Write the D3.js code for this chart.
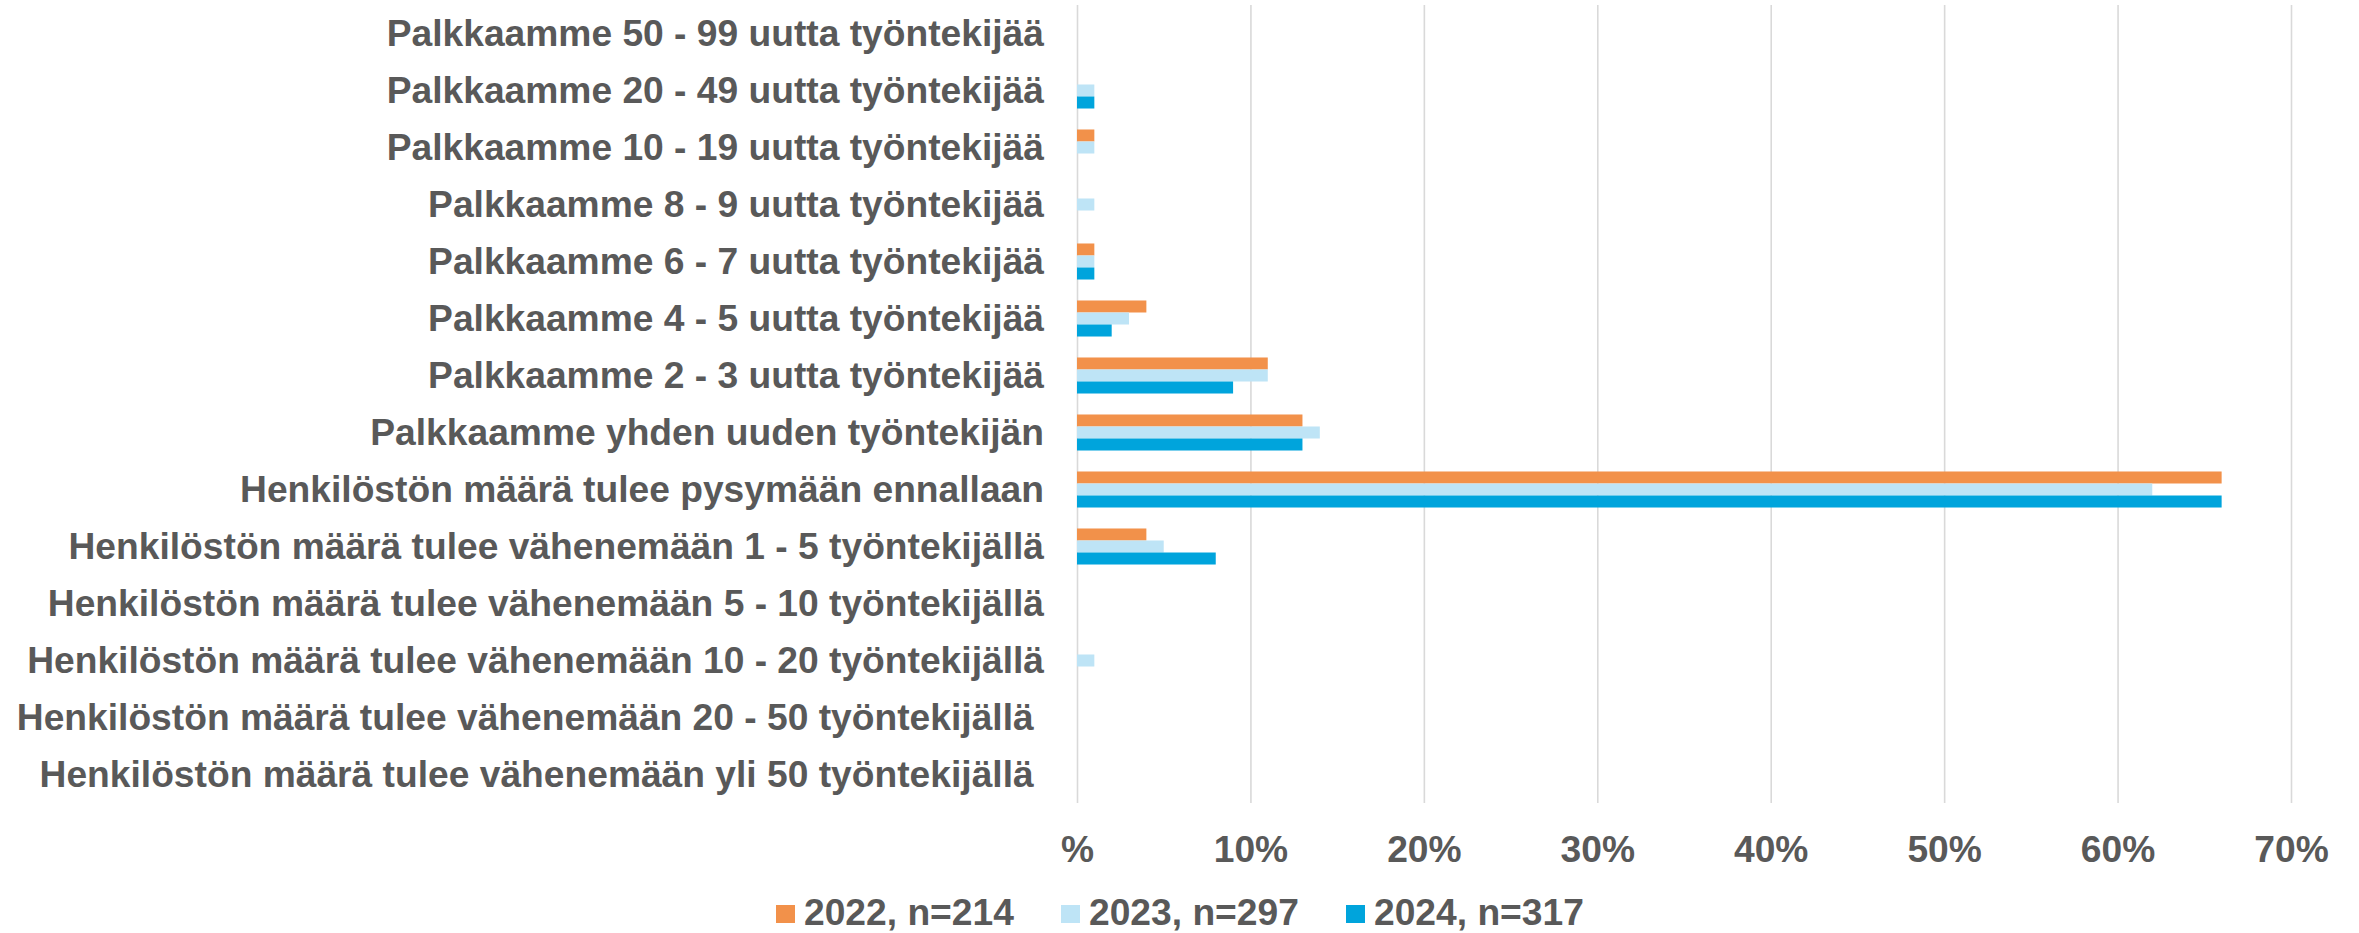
<!DOCTYPE html>
<html>
<head>
<meta charset="utf-8">
<script src="https://cdn.jsdelivr.net/npm/d3@7"></script>
<style>
  body { margin: 0; background: #fff; }
  svg { display: block; font-family: "Liberation Sans", Arial, sans-serif; font-weight: bold; }
  .label { white-space: pre; }
</style>
</head>
<body>
<svg id="chart"></svg>
<script>
// categories, top to bottom
var categories = [
  "Palkkaamme 50 - 99 uutta työntekijää",
  "Palkkaamme 20 - 49 uutta työntekijää",
  "Palkkaamme 10 - 19 uutta työntekijää",
  "Palkkaamme 8 - 9 uutta työntekijää",
  "Palkkaamme 6 - 7 uutta työntekijää",
  "Palkkaamme 4 - 5 uutta työntekijää",
  "Palkkaamme 2 - 3 uutta työntekijää",
  "Palkkaamme yhden uuden työntekijän",
  "Henkilöstön määrä tulee pysymään ennallaan",
  "Henkilöstön määrä tulee vähenemään 1 - 5 työntekijällä",
  "Henkilöstön määrä tulee vähenemään 5 - 10 työntekijällä",
  "Henkilöstön määrä tulee vähenemään 10 - 20 työntekijällä",
  "Henkilöstön määrä tulee vähenemään 20 - 50 työntekijällä ",
  "Henkilöstön määrä tulee vähenemään yli 50 työntekijällä "
];

// series names and values (percent)
var seriesNames = ["2022, n=214", "2023, n=297", "2024, n=317"];
var values2022 = [0, 0, 1, 0, 1, 4, 11, 13, 66, 4, 0, 0, 0, 0];
var values2023 = [0, 1, 1, 1, 1, 3, 11, 14, 62, 5, 0, 1, 0, 0];
var values2024 = [0, 1, 0, 0, 1, 2, 9, 13, 66, 8, 0, 0, 0, 0];
var seriesValues = [values2022, values2023, values2024];

// tick values for the x axis
var tickValues = [0, 0.1, 0.2, 0.3, 0.4, 0.5, 0.6, 0.7];

var colors = ["#F2914A", "#BEE4F6", "#00A4DC"];
var textColor = "#595959";
var fontSize = 37.2;

// size variables
var fullWidth = 2359;
var fullHeight = 933;
var margin = {top: 5, right: 68, bottom: 130, left: 1077};
var width = fullWidth - margin.left - margin.right;
var height = fullHeight - margin.top - margin.bottom;

var svg = d3.select("#chart")
  .attr("width", fullWidth)
  .attr("height", fullHeight);

var g = svg.append("g")
  .attr("transform", "translate(" + margin.left + "," + margin.top + ")");

// scales
var xScale = d3.scaleLinear()
  .domain([0, 0.7])
  .range([0, width]);

var yScale = d3.scaleBand()
  .domain(categories)
  .range([0, height])
  .paddingInner(0.368)
  .paddingOuter(0.184);

var ySub = d3.scaleBand()
  .domain(d3.range(seriesNames.length))
  .range([0, yScale.bandwidth()]);

// x axis with gridlines
var xAxis = d3.axisBottom(xScale)
  .tickValues(tickValues)
  .tickSizeInner(-height)
  .tickSizeOuter(0)
  .tickFormat(function(d) { return d === 0 ? "%" : Math.round(d * 100) + "%"; });

var xAxisG = g.append("g")
  .attr("transform", "translate(0," + height + ")")
  .call(xAxis);

xAxisG.select(".domain").remove();
xAxisG.selectAll(".tick line")
  .attr("stroke", "#D9D9D9")
  .attr("stroke-width", 1.6);
xAxisG.selectAll(".tick text")
  .attr("y", 59)
  .attr("dy", 0)
  .attr("fill", textColor)
  .style("font-size", fontSize + "px")
  .style("font-family", "'Liberation Sans', Arial, sans-serif")
  .style("font-weight", "bold");

// bars, one group per category
var groups = g.selectAll(".cat")
  .data(categories)
  .enter().append("g")
  .attr("class", "cat")
  .attr("transform", function(d) { return "translate(0," + yScale(d) + ")"; });

groups.selectAll("rect")
  .data(function(d, i) {
    return seriesValues.map(function(vals, s) { return {s: s, v: vals[i]}; });
  })
  .enter().append("rect")
  .filter(function(d) { return d.v > 0; })
  .attr("x", xScale(0))
  .attr("y", function(d) { return ySub(d.s); })
  .attr("width", function(d) { return xScale(d.v / 100) - xScale(0); })
  .attr("height", ySub.bandwidth())
  .attr("fill", function(d) { return colors[d.s]; });

// category labels
g.selectAll(".label")
  .data(categories)
  .enter().append("text")
  .attr("class", "label")
  .attr("x", -33)
  .attr("y", function(d) { return yScale(d) + yScale.bandwidth() / 2; })
  .attr("dy", "0.33em")
  .attr("text-anchor", "end")
  .attr("fill", textColor)
  .style("font-size", fontSize + "px")
  .text(function(d) { return d; });

// legend, centered under the chart
var itemStep = 285;
var legendWidth = itemStep * (seriesNames.length - 1) + 28 + 209;
var legendX = (fullWidth - legendWidth) / 2;

var legend = svg.append("g")
  .attr("transform", "translate(" + legendX + ",0)");

var items = legend.selectAll(".item")
  .data(seriesNames)
  .enter().append("g")
  .attr("class", "item")
  .attr("transform", function(d, i) { return "translate(" + (i * itemStep) + ",0)"; });

items.append("rect")
  .attr("x", 0)
  .attr("y", 905)
  .attr("width", 19)
  .attr("height", 18)
  .attr("fill", function(d, i) { return colors[i]; });

items.append("text")
  .attr("x", 28)
  .attr("y", 925)
  .attr("fill", textColor)
  .style("font-size", fontSize + "px")
  .text(function(d) { return d; });
</script>
</body>
</html>
